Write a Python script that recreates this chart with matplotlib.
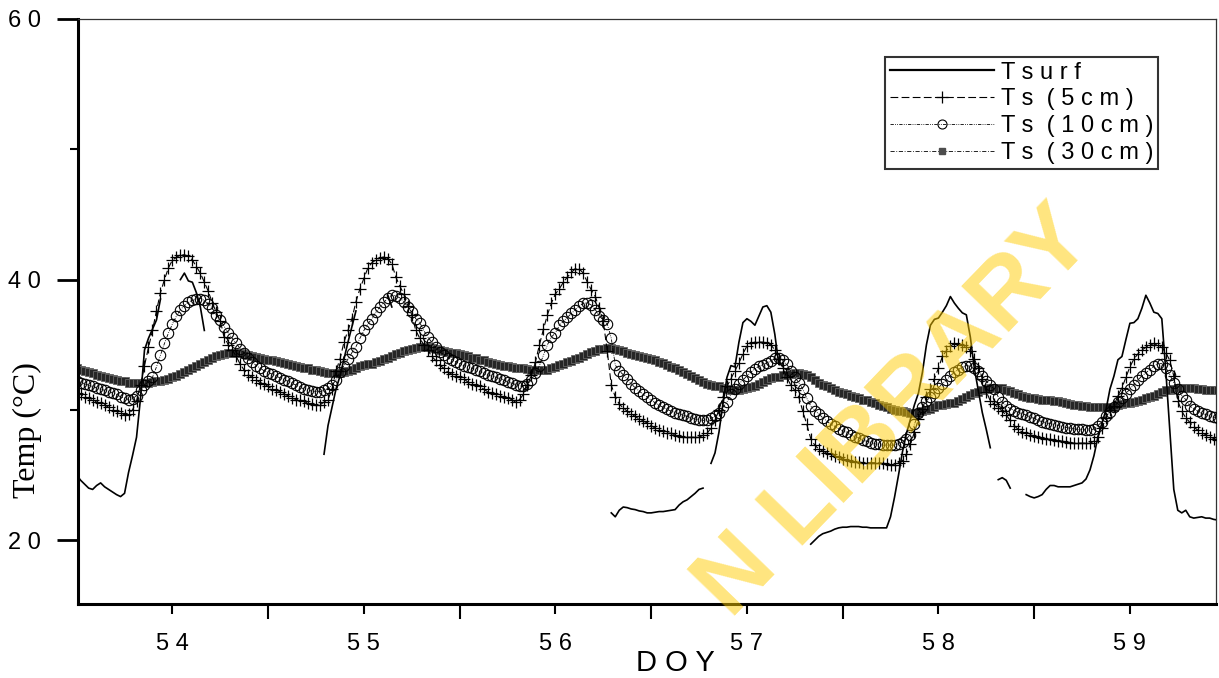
import numpy as np
import matplotlib.pyplot as plt
from matplotlib.lines import Line2D

nan = np.nan

# half-hourly readings from DOY 53.5 to 59.458
doy = 53.5 + np.arange(287) / 48

tsurf = [
    25.0, 24.6, 24.3, 24.0, 23.9, 24.2, 24.4, 24.1, 23.9, 23.7, 23.5, 23.35,
    23.6, 25.2, 26.5, 27.9, 30.9, 34.6, 35.5, 36.2, 36.9, 38.5, nan, nan,
    # 54
    nan, nan, 40.0, 40.5, 39.9, 39.8, 39.0, 37.9, 36.1, *[nan] * 29,
    26.6, 28.8, 30.2, 31.6, 32.6, 33.9, 35.2, 36.4, 37.6, nan,
    # 55
    *[nan] * 6, 38.8, 37.9, *[nan] * 40,
    # 56
    *[nan] * 14, 22.1, 21.8, 22.3, 22.55, 22.5, 22.4, 22.35, 22.25, 22.2, 22.1,
    22.1, 22.15, 22.2, 22.2, 22.25, 22.3, 22.35, 22.7, 22.95, 23.1, 23.35, 23.6,
    23.9, 24.0, nan, 25.9, 26.7, 28.3, 30.5, 32.5, 33.4, 33.3, 35.2, 36.7,
    # 57
    37.0, 36.8, 36.5, 37.2, 37.9, 38.0, 37.5, 35.8, 33.5, *[nan] * 7,
    19.7, 20.0, 20.3, 20.5, 20.6, 20.7, 20.85, 20.95, 21.0, 21.0, 21.05, 21.05,
    21.05, 21.0, 21.0, 20.95, 20.95, 20.95, 20.95, 20.95, 21.8, 23.3, 25.0, 26.8,
    28.2, 29.3, 30.4, 31.3, 32.9, 35.0, 36.5, 36.95,
    # 58
    37.05, 37.5, 38.0, 38.7, 38.2, 37.8, 37.45, 37.3, 35.6, 33.2, 31.5, 29.8,
    28.5, 27.1, nan, 24.65, 24.8, 24.6, 24.0, nan, nan, nan, 23.5, 23.35,
    23.25, 23.35, 23.5, 23.9, 24.2, 24.2, 24.1, 24.1, 24.1, 24.1, 24.2, 24.3,
    24.4, 24.7, 25.4, 26.5, 27.95, 29.0, 30.0, 31.6, 32.6, 33.85, 34.1, 35.4,
    # 59
    36.65, 36.7, 37.0, 37.8, 38.8, 38.2, 37.5, 37.4, 37.0, 33.0, 28.45, 23.9,
    22.3, 22.1, 22.3, 21.8, 21.7, 21.75, 21.8, 21.7, 21.7, 21.6, 21.55,
]

ts5 = [
    31.3, 31.2, 31.0, 30.9, 30.8, 30.6, 30.5, 30.4, 30.2, 30.0, 29.9, 29.8,
    29.6, 29.7, 30.0, 30.7, 31.9, 33.4, 34.8, 36.1, 37.6, 39.0, 40.0, 40.9,
    # 54
    41.5, 41.7, 41.9, 41.9, 41.8, 41.5, 41.0, 40.5, 39.8, 39.1, 38.2, 37.5,
    36.8, 35.6, 35.0, 34.6, 34.1, 33.5, 33.05, 32.7, 32.5, 32.3, 32.1, 32.0,
    31.8, 31.6, 31.5, 31.4, 31.2, 31.1, 30.9, 30.8, 30.75, 30.65, 30.5, 30.45,
    30.4, 30.4, 30.6, 30.8, 31.6, 33.0, 33.9, 35.2, 36.1, 37.0, 38.3, 39.3,
    # 55
    40.1, 40.9, 41.3, 41.5, 41.65, 41.75, 41.6, 41.2, 40.2, 39.5, 38.9, 38.0,
    37.3, 36.1, 35.5, 35.0, 34.6, 34.1, 33.8, 33.45, 33.2, 32.9, 32.75, 32.6,
    32.5, 32.4, 32.15, 32.0, 31.9, 31.8, 31.6, 31.4, 31.3, 31.2, 31.1, 31.0,
    30.9, 30.8, 30.6, 30.8, 31.2, 31.9, 32.7, 33.7, 35.0, 36.2, 37.3, 38.2,
    # 56
    38.9, 39.3, 39.8, 40.2, 40.55, 40.85, 40.8, 40.5, 39.8, 39.2, 38.7, 37.8,
    36.8, 34.5, 31.9, 31.0, 30.45, 30.15, 29.9, 29.7, 29.5, 29.3, 29.15, 29.0,
    28.8, 28.6, 28.45, 28.35, 28.25, 28.2, 28.1, 28.0, 27.95, 27.9, 27.9, 27.9,
    27.9, 28.05, 28.2, 28.6, 29.2, 30.0, 31.0, 31.8, 32.4, 33.0, 33.6, 34.3,
    # 57
    34.9, 35.1, 35.2, 35.2, 35.2, 35.1, 35.0, 34.6, 33.9, 33.2, 32.5, 31.9,
    31.5, 31.0, 29.9, 28.9, 27.8, 27.3, 27.0, 26.85, 26.7, 26.6, 26.5, 26.35,
    26.25, 26.15, 26.05, 26.0, 26.0, 25.95, 25.95, 25.95, 25.95, 25.95, 25.9, 25.85,
    25.8, 25.8, 25.95, 26.1, 26.6, 27.4, 28.3, 29.3, 30.1, 31.0, 31.6, 32.4,
    # 58
    33.2, 34.1, 34.55, 34.9, 35.1, 35.05, 35.0, 34.8, 34.55, 33.9, 33.2, 32.4,
    31.4, 30.7, 30.45, 30.15, 29.9, 29.6, 29.2, 28.8, 28.5, 28.3, 28.2, 28.1,
    28.0, 27.9, 27.85, 27.8, 27.75, 27.7, 27.65, 27.6, 27.55, 27.5, 27.45, 27.45,
    27.45, 27.45, 27.45, 27.6, 27.95, 28.6, 29.4, 30.0, 30.3, 31.1, 31.7, 32.5,
    # 59
    33.3, 33.9, 34.3, 34.6, 34.8, 34.95, 35.1, 34.95, 34.8, 34.4, 33.8, 32.6,
    30.7, 29.9, 29.4, 29.05, 28.7, 28.45, 28.25, 28.1, 27.95, 27.8, 27.7,
]

ts10 = [
    32.2, 32.1, 32.0, 31.9, 31.8, 31.7, 31.6, 31.5, 31.4, 31.3, 31.2, 31.0,
    30.9, 30.8, 30.85, 31.1, 31.5, 31.9, 32.2, 32.5, 33.3, 34.2, 35.1, 35.9,
    # 54
    36.6, 37.2, 37.7, 38.0, 38.25, 38.4, 38.5, 38.55, 38.4, 38.15, 37.8, 37.3,
    36.9, 36.4, 35.9, 35.5, 35.1, 34.7, 34.35, 34.0, 33.7, 33.4, 33.2, 33.0,
    32.85, 32.75, 32.6, 32.45, 32.3, 32.2, 32.05, 31.9, 31.75, 31.6, 31.5, 31.45,
    31.4, 31.4, 31.5, 31.65, 31.9, 32.3, 32.9, 33.4, 33.9, 34.4, 34.85, 35.5,
    # 55
    36.1, 36.6, 37.0, 37.5, 37.9, 38.25, 38.6, 38.8, 38.75, 38.6, 38.3, 37.9,
    37.5, 37.0, 36.7, 36.1, 35.6, 35.2, 34.8, 34.45, 34.25, 34.0, 33.85, 33.7,
    33.55, 33.4, 33.3, 33.2, 33.05, 32.95, 32.8, 32.7, 32.6, 32.5, 32.4, 32.3,
    32.15, 32.05, 31.95, 31.85, 31.8, 32.0, 32.3, 32.8, 33.4, 34.2, 35.0, 35.6,
    # 56
    35.9, 36.5, 36.8, 37.1, 37.4, 37.7, 37.95, 38.2, 38.2, 38.05, 37.7, 37.2,
    36.9, 36.6, 35.5, 33.45, 33.0, 32.7, 32.4, 32.0, 31.7, 31.45, 31.2, 31.0,
    30.75, 30.55, 30.35, 30.2, 30.05, 29.9, 29.8, 29.7, 29.6, 29.5, 29.4, 29.3,
    29.25, 29.2, 29.25, 29.35, 29.5, 29.75, 30.2, 30.6, 31.2, 31.6, 32.0, 32.3,
    # 57
    32.6, 32.9, 33.15, 33.35, 33.45, 33.6, 33.75, 33.95, 34.0, 33.8, 33.5, 33.0,
    32.5, 32.1, 31.6, 30.9, 30.3, 29.95, 29.7, 29.4, 29.15, 28.9, 28.75, 28.55,
    28.4, 28.3, 28.1, 27.95, 27.85, 27.7, 27.6, 27.5, 27.4, 27.35, 27.3, 27.3,
    27.3, 27.3, 27.4, 27.55, 27.8, 28.1, 28.9, 29.8, 30.2, 30.7, 31.0, 31.3,
    # 58
    31.7, 32.0, 32.3, 32.6, 32.9, 33.1, 33.3, 33.4, 33.35, 33.2, 33.0, 32.6,
    32.2, 31.9, 31.6, 31.0, 30.6, 30.3, 30.1, 29.95, 29.8, 29.7, 29.6, 29.45,
    29.35, 29.2, 29.1, 29.0, 28.95, 28.85, 28.8, 28.7, 28.65, 28.6, 28.55, 28.5,
    28.5, 28.45, 28.45, 28.55, 28.8, 29.1, 29.5, 29.85, 30.2, 30.6, 30.95, 31.25,
    # 59
    31.6, 31.95, 32.3, 32.6, 32.85, 33.1, 33.35, 33.55, 33.55, 33.25, 32.7, 32.1,
    31.6, 31.1, 30.8, 30.3, 30.1, 29.9, 29.75, 29.65, 29.55, 29.45, 29.4,
]

ts30 = [
    33.2, 33.1, 33.0, 32.9, 32.8, 32.7, 32.6, 32.5, 32.45, 32.4, 32.3, 32.25,
    32.2, 32.1, 32.05, 32.05, 32.05, 32.1, 32.1, 32.15, 32.2, 32.25, 32.3, 32.4,
    # 54
    32.5, 32.6, 32.75, 32.9, 33.05, 33.2, 33.35, 33.5, 33.65, 33.8, 33.95, 34.1,
    34.2, 34.3, 34.35, 34.4, 34.4, 34.35, 34.3, 34.25, 34.15, 34.05, 34.0, 33.9,
    33.85, 33.8, 33.75, 33.65, 33.6, 33.5, 33.45, 33.35, 33.3, 33.25, 33.2, 33.1,
    33.05, 32.95, 32.9, 32.85, 32.8, 32.8, 32.85, 32.9, 33.0, 33.1, 33.25, 33.35,
    # 55
    33.45, 33.5, 33.55, 33.65, 33.75, 33.9, 34.0, 34.15, 34.3, 34.4, 34.55, 34.6,
    34.7, 34.75, 34.8, 34.8, 34.8, 34.75, 34.7, 34.6, 34.5, 34.45, 34.4, 34.35,
    34.3, 34.2, 34.1, 34.0, 33.95, 33.85, 33.8, 33.7, 33.6, 33.5, 33.45, 33.4,
    33.35, 33.3, 33.25, 33.2, 33.2, 33.15, 33.1, 33.05, 33.05, 33.05, 33.1, 33.2,
    # 56
    33.3, 33.45, 33.55, 33.65, 33.75, 33.9, 34.0, 34.15, 34.3, 34.45, 34.55, 34.65,
    34.7, 34.75, 34.75, 34.7, 34.6, 34.5, 34.4, 34.3, 34.2, 34.1, 34.05, 34.0,
    33.9, 33.8, 33.7, 33.6, 33.45, 33.3, 33.2, 33.05, 32.9, 32.75, 32.6, 32.45,
    32.3, 32.15, 32.0, 31.95, 31.85, 31.8, 31.7, 31.6, 31.55, 31.5, 31.55, 31.6,
    # 57
    31.65, 31.75, 31.85, 32.0, 32.15, 32.3, 32.45, 32.5, 32.55, 32.65, 32.7, 32.75,
    32.8, 32.8, 32.75, 32.65, 32.5, 32.3, 32.1, 31.95, 31.8, 31.65, 31.5, 31.4,
    31.3, 31.2, 31.1, 31.0, 30.9, 30.8, 30.75, 30.6, 30.5, 30.4, 30.3, 30.2,
    30.1, 30.0, 29.95, 29.9, 29.85, 29.8, 29.75, 29.8, 29.9, 30.0, 30.1, 30.25,
    # 58
    30.35, 30.4, 30.45, 30.5, 30.55, 30.7, 30.85, 31.0, 31.15, 31.3, 31.4, 31.5,
    31.6, 31.65, 31.7, 31.7, 31.65, 31.55, 31.45, 31.3, 31.2, 31.1, 31.0, 30.95,
    30.9, 30.85, 30.8, 30.8, 30.75, 30.7, 30.65, 30.6, 30.5, 30.45, 30.4, 30.35,
    30.3, 30.3, 30.25, 30.2, 30.2, 30.2, 30.2, 30.2, 30.25, 30.35, 30.45, 30.5,
    # 59
    30.55, 30.6, 30.65, 30.75, 30.9, 31.0, 31.1, 31.25, 31.4, 31.5, 31.55, 31.6,
    31.65, 31.7, 31.7, 31.7, 31.65, 31.6, 31.6, 31.55, 31.55, 31.55, 31.5,
]

xticks = [54, 55, 56, 57, 58, 59]
xticklabels = ['5 4', '5 5', '5 6', '5 7', '5 8', '5 9']
yticks = [20, 40, 60]
yticklabels = ['2 0', '4 0', '6 0']
labels = ['T s u r f', 'T s  ( 5 c m )', 'T s  ( 1 0 c m )', 'T s  ( 3 0 c m )']

plt.rcParams['font.family'] = ['Liberation Sans', 'DejaVu Sans']

fig = plt.figure(figsize=(12.19, 6.78), dpi=100)
ax = fig.add_axes([0.064, 0.109, 0.9336, 0.863])

ax.plot(doy, ts30, '-', color='0.2', lw=5, marker='s', ms=5.5,
        mfc='0.15', mec='0.4', mew=0.6, zorder=2)
ax.plot(doy, ts10, ls=(0, (4, 1.5, 1, 1.5, 1, 1.5)), color='k', lw=0.6,
        marker='o', ms=7.5, mfc='none', mec='k', mew=0.8, zorder=3)
ax.plot(doy, ts5, ls=(0, (6, 3)), color='k', lw=0.8,
        marker='+', ms=9, mew=0.9, zorder=4)
ax.plot(doy, tsurf, '-', color='k', lw=1.2, zorder=5)

ax.set_xlim(53.507, 59.45)
ax.set_ylim(15.1, 60)
ax.set_xticks(xticks)
ax.set_xticklabels(xticklabels, fontsize=17)
ax.set_xticks([54.5, 55.5, 56.5, 57.5, 58.5], minor=True)
ax.set_yticks(yticks)
ax.set_yticklabels(yticklabels, fontsize=17)
ax.set_yticks([30, 50], minor=True)
ax.tick_params(axis='x', which='major', length=7, width=1.5, pad=14)
ax.tick_params(axis='x', which='minor', length=11, width=1.5)
ax.tick_params(axis='y', which='major', length=15, width=2, pad=12)
ax.tick_params(axis='y', which='minor', length=6, width=1.5)

for side in ['left', 'bottom']:
    ax.spines[side].set_linewidth(2.2)
for side in ['top', 'right']:
    ax.spines[side].set_linewidth(0.9)
    ax.spines[side].set_color('0.2')

fig.text(675 / 1219, 1 - 663 / 678, 'D O Y', ha='center', va='center', fontsize=21)
fig.text(27 / 1219, 1 - 430 / 678, 'Temp (°C)', rotation=90, ha='center', va='center',
         fontsize=23, family=['Liberation Serif', 'DejaVu Serif'])

handles = [
    Line2D([], [], color='k', lw=1.6),
    Line2D([], [], color='k', lw=0.8, ls=(0, (7, 3)), marker='+', ms=8, mew=0.9),
    Line2D([], [], color='k', lw=0.6, ls=(0, (4, 1.5, 1, 1.5, 1, 1.5)), marker='o',
           ms=6.5, mfc='none', mew=0.8),
    Line2D([], [], color='k', lw=0.6, ls=(0, (5, 2, 1, 2)), marker='s', ms=5,
           mfc='0.3', mec='0.3'),
]
leg = ax.legend(handles, labels, loc='upper right', bbox_to_anchor=(0.949, 0.935),
                borderaxespad=0, fontsize=17, handlelength=4.4, handletextpad=0.3,
                labelspacing=0.2, borderpad=0.2, frameon=True, fancybox=False,
                numpoints=1)
leg.get_frame().set_edgecolor('k')
leg.get_frame().set_linewidth(1.5)

fig.text(0.735, 0.39, 'N LIBRARY', rotation=46, ha='center', va='center',
         fontsize=70, fontweight='bold', color='#FFCC00', alpha=0.5, zorder=10)

fig.savefig('out.png', dpi=100)
